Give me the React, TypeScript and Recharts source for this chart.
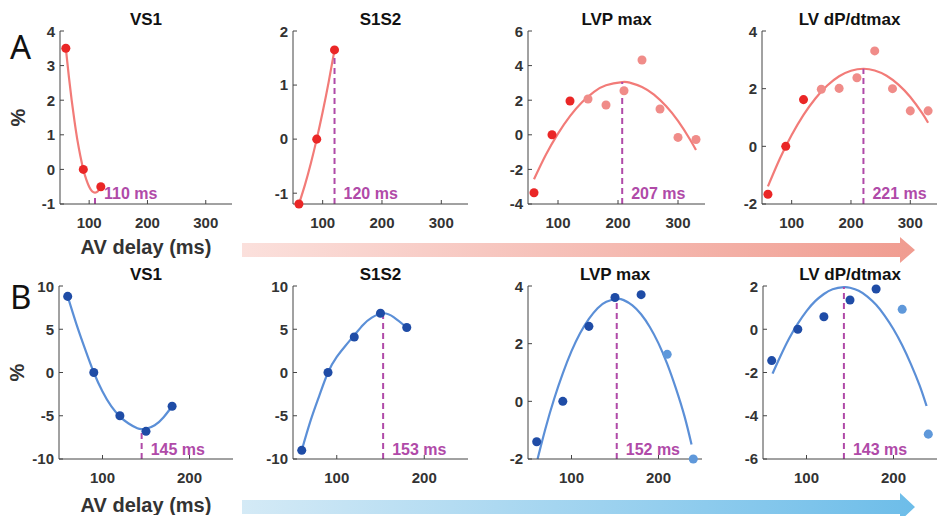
import React from 'react';
import { ComposedChart, Line, Scatter, XAxis, YAxis, ReferenceLine, ReferenceDot, Cell } from 'recharts';

// AV delays tested (ms)
const delaysA = [60, 90, 120, 150, 180, 210, 240, 270, 300, 330];
const delaysB = [60, 90, 120, 150, 180, 210, 240];

// row A: measured change (%)
const aVs1 = [3.5, 0, -0.5];
const aS1s2 = [-1.2, 0, 1.65];
const aLvp = [-3.35, 0, 1.95, 2.07, 1.72, 2.55, 4.32, 1.49, -0.15, -0.27];
const aDpdt = [-1.66, 0, 1.62, 1.98, 2.01, 2.38, 3.31, 2.0, 1.23, 1.23];

// row B: measured change (%)
const bVs1 = [8.8, 0, -5.0, -6.8, -3.9];
const bS1s2 = [-9.0, 0, 4.1, 6.85, 5.2];
const bLvp = [-1.4, 0, 2.6, 3.6, 3.7, 1.63, -2.0];
const bDpdt = [-1.45, 0, 0.58, 1.35, 1.86, 0.92, -4.85];

// fitted curves
const aVs1FitX = [60, 65, 70, 75, 80, 85, 90, 95, 100, 105, 110, 115, 120];
const aVs1FitY = [3.5, 2.71, 2.0, 1.38, 0.83, 0.38, 0, -0.29, -0.5, -0.63, -0.67, -0.63, -0.5];
const aS1s2FitX = [60, 70, 80, 90, 100, 110, 120];
const aS1s2FitY = [-1.2, -0.85, -0.45, 0, 0.5, 1.05, 1.65];
const aLvpFitX = [60, 80, 100, 120, 140, 160, 180, 207, 220, 240, 260, 280, 300, 320, 330];
const aLvpFitY = [-2.57, -1.14, 0.07, 1.08, 1.88, 2.48, 2.86, 3.05, 3.01, 2.77, 2.32, 1.66, 0.8, -0.27, -0.88];
const aDpdtFitX = [60, 80, 100, 120, 140, 160, 180, 200, 221, 240, 260, 280, 300, 320, 330];
const aDpdtFitY = [-1.39, -0.43, 0.39, 1.09, 1.66, 2.11, 2.43, 2.62, 2.69, 2.63, 2.45, 2.14, 1.71, 1.15, 0.82];
const bVs1FitX = [60, 70, 80, 90, 100, 110, 120, 130, 140, 145, 150, 160, 170, 180];
const bVs1FitY = [8.8, 5.6, 2.7, 0, -2.2, -3.9, -5.1, -5.9, -6.45, -6.55, -6.5, -6.1, -5.2, -3.9];
const bS1s2FitX = [60, 70, 80, 90, 100, 110, 120, 130, 140, 153, 165, 180];
const bS1s2FitY = [-9.0, -5.6, -2.7, 0, 1.8, 3.1, 4.3, 5.5, 6.35, 6.85, 6.4, 5.2];
const bLvpFitX = [61, 70, 80, 90, 100, 110, 120, 130, 140, 152, 160, 170, 180, 190, 200, 210, 220, 230, 238];
const bLvpFitY = [-2.0, -0.95, 0.08, 0.97, 1.74, 2.37, 2.86, 3.23, 3.45, 3.55, 3.51, 3.33, 3.02, 2.58, 2.01, 1.3, 0.45, -0.53, -1.5];
const bDpdtFitX = [61, 70, 80, 90, 100, 110, 120, 130, 143, 150, 160, 170, 180, 190, 200, 210, 220, 230, 238];
const bDpdtFitY = [-2.05, -1.25, -0.43, 0.26, 0.84, 1.3, 1.63, 1.85, 1.95, 1.92, 1.78, 1.51, 1.13, 0.62, 0.0, -0.74, -1.61, -2.6, -3.55];

// optimal delays (ms) and curve value there
const titles = ['VS1', 'S1S2', 'LVP max', 'LV dP/dtmax'];
const aOpt = [110, 120, 207, 221];
const aOptY = [-0.72, 1.65, 3.05, 2.69];
const bOpt = [145, 153, 152, 143];
const bOptY = [-6.55, 6.85, 3.55, 1.95];

const FONT = '"Liberation Sans", Arial, Helvetica, sans-serif';
const PURPLE = '#b04aa8';
const YW = 60;
const MT = 8;
const MR = 6;
const XH = 56;

const rowA = {
  y0: 31, h: 173, xDomain: [50, 345], xTicks: [100, 200, 300], titleTop: 10,
  line: '#f27b78', dark: '#ea2626', light: '#f08c89', xLabelOffset: 6,
};
const rowB = {
  y0: 286, h: 173, xDomain: [50, 250], xTicks: [100, 200], titleTop: 265,
  line: '#5b8fd7', dark: '#1f4ca6', light: '#5f98da', xLabelOffset: 3,
};

const panelsA = [
  { x0: 60, w: 172, xs: delaysA.slice(0, 3), ys: aVs1, fx: aVs1FitX, fy: aVs1FitY, yDomain: [-1, 4], yTicks: [-1, 0, 1, 2, 3, 4], nDark: 3, labelY: -0.68, axisLabels: true },
  { x0: 293, w: 175, xs: delaysA.slice(0, 3), ys: aS1s2, fx: aS1s2FitX, fy: aS1s2FitY, yDomain: [-1.2, 2], yTicks: [-1, 0, 1, 2], nDark: 3, labelY: -1.0 },
  { x0: 528, w: 177, xs: delaysA, ys: aLvp, fx: aLvpFitX, fy: aLvpFitY, yDomain: [-4, 6], yTicks: [-4, -2, 0, 2, 4, 6], nDark: 3, labelY: -3.36 },
  { x0: 762, w: 175, xs: delaysA, ys: aDpdt, fx: aDpdtFitX, fy: aDpdtFitY, yDomain: [-2, 4], yTicks: [-2, 0, 2, 4], nDark: 3, labelY: -1.62 },
];
const panelsB = [
  { x0: 59, w: 174, xs: delaysB.slice(0, 5), ys: bVs1, fx: bVs1FitX, fy: bVs1FitY, yDomain: [-10, 10], yTicks: [-10, -5, 0, 5, 10], nDark: 5, labelY: -8.84, axisLabels: true },
  { x0: 293, w: 175, xs: delaysB.slice(0, 5), ys: bS1s2, fx: bS1s2FitX, fy: bS1s2FitY, yDomain: [-10, 10], yTicks: [-10, -5, 0, 5, 10], nDark: 5, labelY: -8.84 },
  { x0: 528, w: 174, xs: delaysB, ys: bLvp, fx: bLvpFitX, fy: bLvpFitY, yDomain: [-2, 4], yTicks: [-2, 0, 2, 4], nDark: 5, labelY: -1.65 },
  { x0: 763, w: 174, xs: delaysB, ys: bDpdt, fx: bDpdtFitX, fy: bDpdtFitY, yDomain: [-6, 2], yTicks: [-6, -4, -2, 0, 2], nDark: 5, labelY: -5.54 },
];

const tickStyle = { fontSize: 15, fontWeight: 'bold', fill: '#333', fontFamily: FONT };

function Panel({ p, row, title, opt, optY }: any) {
  const pts = p.xs.map((x: number, i: number) => ({ x, y: p.ys[i] }));
  const fit = p.fx.map((x: number, i: number) => ({ x, y: p.fy[i] }));
  const width = YW + p.w + MR;
  const height = MT + row.h + XH;
  return (
    <>
      <div style={{ position: 'absolute', left: p.x0 - YW, top: row.y0 - MT }}>
        <ComposedChart width={width} height={height} margin={{ top: MT, right: MR, bottom: 0, left: 0 }}>
          <XAxis
            type="number"
            dataKey="x"
            domain={row.xDomain}
            ticks={row.xTicks}
            height={XH}
            stroke="#444"
            tickSize={-4}
            tickMargin={17}
            tick={tickStyle}
            label={p.axisLabels ? { value: 'AV delay (ms)', position: 'insideBottom', offset: row.xLabelOffset, style: { fontSize: 20, fontWeight: 'bold', fill: '#333', fontFamily: FONT } } : undefined}
          />
          <YAxis
            type="number"
            dataKey="y"
            domain={p.yDomain}
            ticks={p.yTicks}
            width={YW}
            stroke="#444"
            tickSize={-4}
            tickMargin={9}
            tick={tickStyle}
            label={p.axisLabels ? { value: '%', angle: -90, position: 'insideLeft', offset: 18, style: { fontSize: 20, fontWeight: 'bold', fill: '#333', fontFamily: FONT, textAnchor: 'middle' } } : undefined}
          />
          <Line data={fit} dataKey="y" type="natural" stroke={row.line} strokeWidth={2.2} dot={false} isAnimationActive={false} />
          <ReferenceLine
            segment={[{ x: opt, y: p.yDomain[0] }, { x: opt, y: optY }]}
            stroke={PURPLE}
            strokeWidth={2}
            strokeDasharray="6 4"
          />
          <Scatter data={pts} isAnimationActive={false}>
            {pts.map((_: any, i: number) => (
              <Cell key={i} fill={i < p.nDark ? row.dark : row.light} />
            ))}
          </Scatter>
          <ReferenceDot
            x={opt}
            y={p.labelY}
            r={0}
            fill="none"
            stroke="none"
            label={{ value: `${opt} ms`, position: 'right', offset: 9, fill: PURPLE, fontSize: 16, fontWeight: 'bold', fontFamily: FONT }}
          />
        </ComposedChart>
      </div>
      <div
        style={{
          position: 'absolute', left: p.x0, width: p.w, top: row.titleTop, textAlign: 'center',
          fontSize: 17, fontWeight: 'bold', lineHeight: '20px', color: '#111', fontFamily: FONT,
        }}
      >
        {title}
      </div>
    </>
  );
}

function Arrows() {
  return (
    <svg width={937} height={516} style={{ position: 'absolute', left: 0, top: 0 }}>
      <defs>
        <linearGradient id="redArrow" x1="0" y1="0" x2="1" y2="0">
          <stop offset="0%" stopColor="#fbe0dc" />
          <stop offset="100%" stopColor="#f09c90" />
        </linearGradient>
        <linearGradient id="blueArrow" x1="0" y1="0" x2="1" y2="0">
          <stop offset="0%" stopColor="#d4eaf6" />
          <stop offset="100%" stopColor="#6dbde9" />
        </linearGradient>
      </defs>
      <polygon points="242,243 900,243 900,237 915,250 900,263 900,257 242,257" fill="url(#redArrow)" />
      <polygon points="242,500 900,500 900,493 915,507 900,521 900,514 242,514" fill="url(#blueArrow)" />
    </svg>
  );
}

export default function App() {
  return (
    <div style={{ position: 'fixed', left: 0, top: 0, width: 937, height: 516, overflow: 'hidden', background: '#fff', fontFamily: FONT }}>
      <Arrows />
      {panelsA.map((p, i) => (
        <Panel key={`a${i}`} p={p} row={rowA} title={titles[i]} opt={aOpt[i]} optY={aOptY[i]} />
      ))}
      {panelsB.map((p, i) => (
        <Panel key={`b${i}`} p={p} row={rowB} title={titles[i]} opt={bOpt[i]} optY={bOptY[i]} />
      ))}
      <div style={{ position: 'absolute', left: 10, top: 24, fontSize: 33, fontFamily: '"Noto Sans", sans-serif', color: '#111' }}>A</div>
      <div style={{ position: 'absolute', left: 10, top: 274, fontSize: 33, fontFamily: '"Noto Sans", sans-serif', color: '#111' }}>B</div>
    </div>
  );
}
